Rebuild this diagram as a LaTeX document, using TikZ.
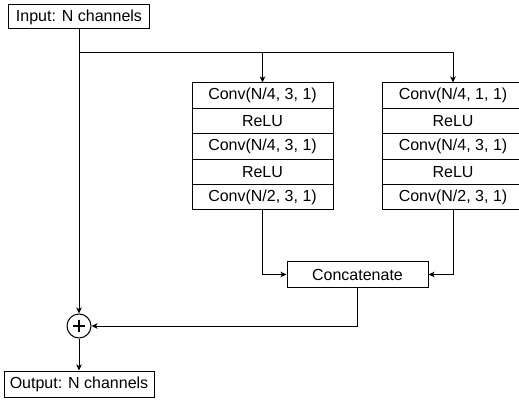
\documentclass[tikz,border=0pt]{standalone}
\usepackage{fontspec}
\setmainfont{Liberation Sans}
\usetikzlibrary{arrows.meta}
\begin{document}
\begin{tikzpicture}[x=1pt,y=-1pt,
  every node/.style={font=\fontsize{16}{19}\selectfont},
  box/.style={draw=black, line width=1pt, rectangle, inner sep=0pt, minimum width=141pt, minimum height=25.4pt, fill=white},
  wire/.style={line width=1pt},
  arr/.style={wire, -{Stealth[length=6pt,width=5.5pt,inset=1.5pt]}}]
\useasboundingbox (0,0) rectangle (519,403);
\node[box, minimum height=24pt] (in) at (79,17) {Input: N channels};
\node[box, minimum width=150pt, minimum height=26pt] (out) at (79,384) {Output: N channels};
\node[draw, circle, line width=1pt, minimum size=24pt, inner sep=0pt] (plus) at (79,326) {};
\draw[line width=2pt] (plus.center) ++(-6,0) -- ++(12,0);
\draw[line width=2pt] (plus.center) ++(0,-6) -- ++(0,12);
% left column
\node[box] (l1) at (262.5,95.7) {Conv(N/4, 3, 1)};
\node[box] (l2) at (262.5,121.1) {ReLU};
\node[box] (l3) at (262.5,146.5) {Conv(N/4, 3, 1)};
\node[box] (l4) at (262.5,171.9) {ReLU};
\node[box] (l5) at (262.5,197.3) {Conv(N/2, 3, 1)};
% right column
\node[box] (r1) at (453,95.7) {Conv(N/4, 1, 1)};
\node[box] (r2) at (453,121.1) {ReLU};
\node[box] (r3) at (453,146.5) {Conv(N/4, 3, 1)};
\node[box] (r4) at (453,171.9) {ReLU};
\node[box] (r5) at (453,197.3) {Conv(N/2, 3, 1)};
\node[box, minimum height=25pt] (cat) at (357.5,274.5) {Concatenate};
\coordinate (split) at (79,53);
\draw[arr] (in.south) -- (plus.north);
\draw[arr] (split) -| (l1.north);
\draw[arr] (split) -| (r1.north);
\draw[arr] (l5.south) |- (cat.west);
\draw[arr] (r5.south) |- (cat.east);
\draw[arr] (cat.south) |- (plus.east);
\draw[arr] (plus.south) -- (out.north);
\end{tikzpicture}
\end{document}
